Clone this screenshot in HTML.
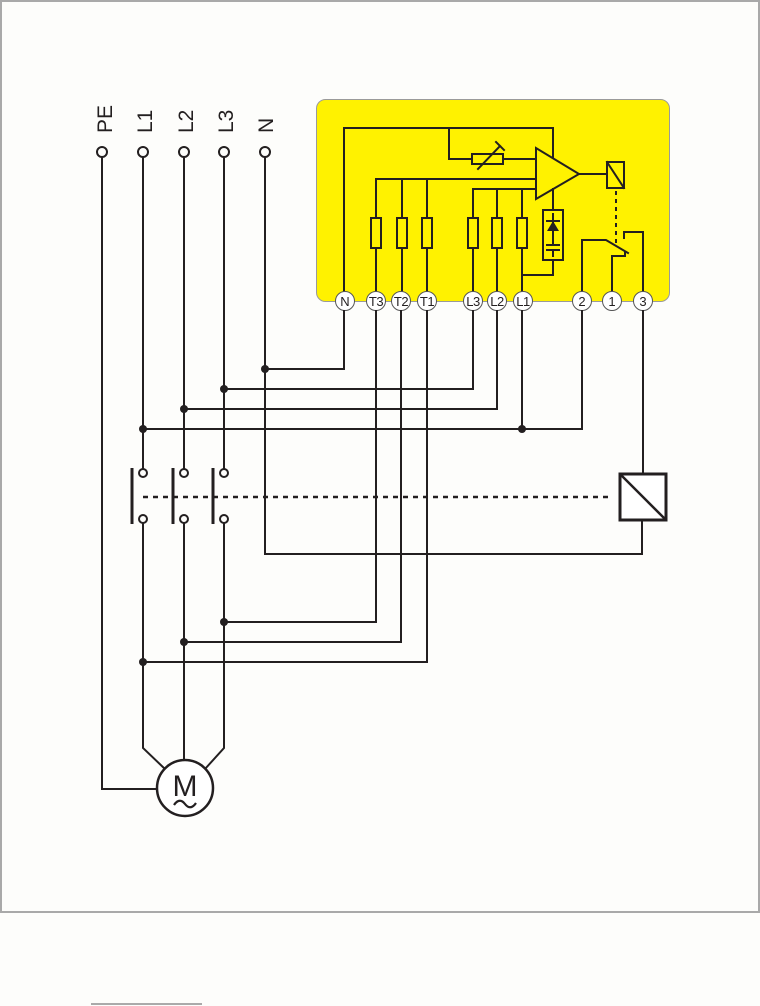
<!DOCTYPE html>
<html><head><meta charset="utf-8"><style>
html,body{margin:0;padding:0;background:#fdfdfb;}
svg{display:block;}
text{font-family:"Liberation Sans",Arial,sans-serif;fill:#231f20;}
</style></head><body>
<svg width="760" height="1006" viewBox="0 0 760 1006" xmlns="http://www.w3.org/2000/svg">
<rect x="0" y="0" width="760" height="1006" fill="#fdfdfb"/>
<rect x="1" y="1" width="758" height="911" fill="none" stroke="#a9a9a9" stroke-width="2"/>
<rect x="91" y="1003" width="111" height="2" fill="#aaa"/>

<!-- yellow box -->
<rect x="316.5" y="99.5" width="353" height="202" rx="9" ry="9" fill="#fff200" stroke="#9a9a9a" stroke-width="1"/>

<g stroke="#231f20" stroke-width="2" fill="none" stroke-linecap="square">
  <polyline points="344,292 344,128 553,128 553,158"/>
  <polyline points="449,128 449,159 472,159"/>
  <line x1="503" y1="159" x2="536" y2="159"/>
  <rect x="472" y="154" width="31" height="10" fill="#fff200"/>
  <line x1="478" y1="169" x2="500" y2="146"/>
  <line x1="496" y1="142" x2="504" y2="150"/>
  <line x1="376" y1="179" x2="536" y2="179"/>
  <line x1="376" y1="179" x2="376" y2="292"/>
  <line x1="402" y1="179" x2="402" y2="292"/>
  <line x1="427" y1="179" x2="427" y2="292"/>
  <line x1="473" y1="189" x2="536" y2="189"/>
  <line x1="473" y1="189" x2="473" y2="292"/>
  <line x1="497" y1="189" x2="497" y2="292"/>
  <line x1="522" y1="189" x2="522" y2="292"/>
  <rect x="371" y="218" width="10" height="30" fill="#fff200"/>
  <rect x="397" y="218" width="10" height="30" fill="#fff200"/>
  <rect x="422" y="218" width="10" height="30" fill="#fff200"/>
  <rect x="468" y="218" width="10" height="30" fill="#fff200"/>
  <rect x="492" y="218" width="10" height="30" fill="#fff200"/>
  <rect x="517" y="218" width="10" height="30" fill="#fff200"/>
  <polygon points="536,148 536,199 579,174" fill="#fff200" stroke-linejoin="miter"/>
  <line x1="579" y1="174" x2="607" y2="174"/>
  <rect x="607" y="162" width="17" height="26" fill="#fff200"/>
  <line x1="607" y1="162" x2="624" y2="188"/>
  <line x1="553" y1="189" x2="553" y2="210"/>
  <rect x="543" y="210" width="20" height="50" fill="#fff200"/>
  <polyline points="553,260 553,275 522,275"/>
  <line x1="553" y1="214" x2="553" y2="236"/>
  <line x1="547" y1="221" x2="559" y2="221"/>
  <line x1="553" y1="238" x2="553" y2="245"/>
  <line x1="547" y1="245" x2="559" y2="245"/>
  <line x1="547" y1="250" x2="559" y2="250"/>
  <line x1="553" y1="250" x2="553" y2="256"/>
  <line x1="616" y1="191" x2="616" y2="243" stroke-dasharray="4,4" stroke-linecap="butt"/>
  <polyline points="582,292 582,240 606,240 628,253"/>
  <polyline points="612,292 612,256 625,256 625,252"/>
  <polyline points="643,292 643,232 624,232 624,238"/>
</g>
<polygon points="553,221 547,231 559,231" fill="#231f20"/>

<g stroke="#555" stroke-width="1" fill="#fff">
  <circle cx="345" cy="301" r="9.5"/>
  <circle cx="376" cy="301" r="9.5"/>
  <circle cx="401" cy="301" r="9.5"/>
  <circle cx="427" cy="301" r="9.5"/>
  <circle cx="473" cy="301" r="9.5"/>
  <circle cx="497" cy="301" r="9.5"/>
  <circle cx="523" cy="301" r="9.5"/>
  <circle cx="582" cy="301" r="9.5"/>
  <circle cx="612" cy="301" r="9.5"/>
  <circle cx="643" cy="301" r="9.5"/>
</g>
<g font-size="13" text-anchor="middle">
  <text x="345" y="306">N</text>
  <text x="376" y="306" letter-spacing="-0.5">T3</text>
  <text x="401" y="306" letter-spacing="-0.5">T2</text>
  <text x="427" y="306" letter-spacing="-0.5">T1</text>
  <text x="473" y="306" letter-spacing="-0.5">L3</text>
  <text x="497" y="306" letter-spacing="-0.5">L2</text>
  <text x="523" y="306" letter-spacing="-0.5">L1</text>
  <text x="582" y="306">2</text>
  <text x="612" y="306">1</text>
  <text x="643" y="306">3</text>
</g>

<g font-size="21">
  <text transform="translate(112,133) rotate(-90)">PE</text>
  <text transform="translate(152,133) rotate(-90)">L1</text>
  <text transform="translate(193,133) rotate(-90)">L2</text>
  <text transform="translate(233,133) rotate(-90)">L3</text>
  <text transform="translate(273,133) rotate(-90)">N</text>
</g>

<g stroke="#231f20" stroke-width="2" fill="none">
  <circle cx="102" cy="152" r="5"/>
  <circle cx="143" cy="152" r="5"/>
  <circle cx="184" cy="152" r="5"/>
  <circle cx="224" cy="152" r="5"/>
  <circle cx="265" cy="152" r="5"/>
  <polyline points="102,157 102,789 157,789"/>
  <line x1="143" y1="157" x2="143" y2="469"/>
  <line x1="184" y1="157" x2="184" y2="469"/>
  <line x1="224" y1="157" x2="224" y2="469"/>
  <polyline points="265,157 265,554 642,554 642,520"/>
  <polyline points="265,369 344,369 344,310"/>
  <polyline points="224,389 473,389 473,310"/>
  <polyline points="184,409 497,409 497,310"/>
  <polyline points="143,429 582,429 582,310"/>
  <line x1="522" y1="429" x2="522" y2="310"/>
  <line x1="643" y1="310" x2="643" y2="473"/>
  <circle cx="143" cy="473" r="4"/>
  <circle cx="184" cy="473" r="4"/>
  <circle cx="224" cy="473" r="4"/>
  <circle cx="143" cy="519" r="4"/>
  <circle cx="184" cy="519" r="4"/>
  <circle cx="224" cy="519" r="4"/>
  <line x1="132" y1="468" x2="132" y2="524" stroke-width="3"/>
  <line x1="173" y1="468" x2="173" y2="524" stroke-width="3"/>
  <line x1="213" y1="468" x2="213" y2="524" stroke-width="3"/>
  <line x1="143" y1="497" x2="612" y2="497" stroke-width="2.5" stroke-dasharray="5,5"/>
  <rect x="620" y="474" width="46" height="46" stroke-width="3" fill="#fff"/>
  <line x1="620" y1="474" x2="666" y2="520" stroke-width="2.5"/>
  <polyline points="143,523 143,748 165,769"/>
  <line x1="184" y1="523" x2="184" y2="760"/>
  <polyline points="224,523 224,748 205,769"/>
  <polyline points="376,310 376,622 224,622"/>
  <polyline points="401,310 401,642 184,642"/>
  <polyline points="427,310 427,662 143,662"/>
  <circle cx="185" cy="788" r="28" stroke-width="2.5" fill="#fff"/>
  <path d="M174,805 C178,799 182,800 185,804 C188,808 192,809 196,803" stroke-width="2.2"/>
</g>
<text x="185" y="796" font-size="30" text-anchor="middle">M</text>

<g fill="#231f20">
  <circle cx="265" cy="369" r="4"/>
  <circle cx="224" cy="389" r="4"/>
  <circle cx="184" cy="409" r="4"/>
  <circle cx="143" cy="429" r="4"/>
  <circle cx="522" cy="429" r="4"/>
  <circle cx="224" cy="622" r="4"/>
  <circle cx="184" cy="642" r="4"/>
  <circle cx="143" cy="662" r="4"/>
</g>
</svg>
</body></html>
